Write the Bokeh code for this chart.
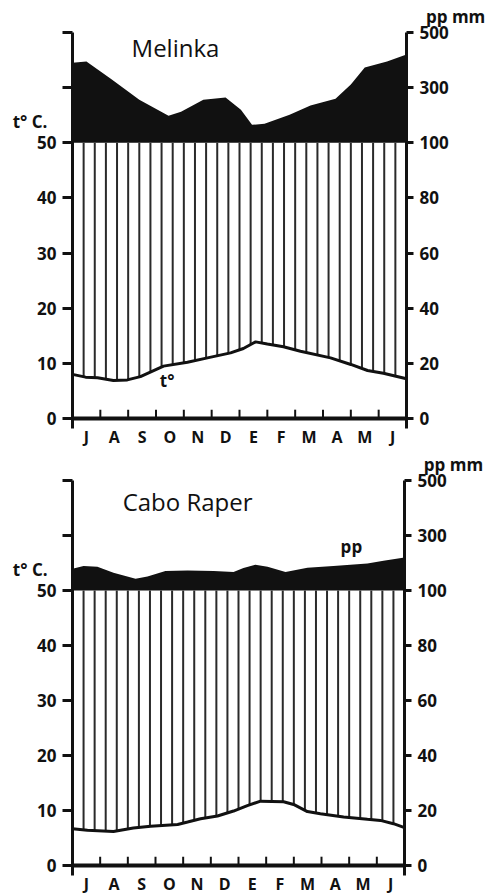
import numpy as np
from bokeh.plotting import figure
from bokeh.models import LinearAxis, FixedTicker, Label, Range1d
from bokeh.layouts import column
from bokeh.embed import file_html
from bokeh.resources import INLINE

# ---------------- data ----------------
months = ["J", "A", "S", "O", "N", "D", "E", "F", "M", "A", "M", "J"]
temp_ticks = [0, 10, 20, 30, 40, 50, 60, 70]
temp_labels = ["0", "10", "20", "30", "40", "50", "", ""]
pp_labels = ["0", "20", "40", "60", "80", "100", "300", "500"]

# Melinka
mel_pp_x = [0, 0.5, 1.4, 2.4, 3.45, 3.9, 4.7, 5.5, 6.05, 6.45, 6.9, 7.8, 8.55, 9.45, 10.0, 10.5, 11.3, 12]
mel_pp = [390, 395, 330, 256, 198, 213, 256, 264, 220, 165, 169, 202, 235, 260, 311, 373, 395, 420]
mel_t_x = [0, 0.47, 0.9, 1.47, 1.97, 2.44, 3.27, 4.13, 4.85, 5.68, 6.14, 6.58, 7.0, 7.58, 8.19, 9.27, 10.0, 10.6, 11.17, 12]
mel_t = [8.0, 7.5, 7.4, 6.9, 7.0, 7.6, 9.5, 10.2, 11.0, 11.9, 12.7, 13.9, 13.5, 13.0, 12.2, 11.0, 9.8, 8.7, 8.2, 7.2]

# Cabo Raper
cab_pp_x = [0, 0.4, 0.9, 1.48, 2.28, 2.71, 3.36, 4.16, 5.1, 5.82, 6.18, 6.61, 7.05, 7.7, 8.49, 9.43, 10.66, 11.24, 12]
cab_pp = [179, 189, 186, 165, 143, 151, 171, 173, 171, 167, 182, 194, 186, 167, 183, 189, 198, 208, 220]
cab_t_x = [0, 0.54, 1.48, 2.2, 2.82, 3.8, 4.16, 4.63, 5.24, 5.82, 6.32, 6.8, 7.63, 7.99, 8.49, 8.96, 9.8, 10.66, 11.13, 11.6, 12]
cab_t = [6.7, 6.4, 6.2, 6.8, 7.15, 7.45, 7.9, 8.5, 9.0, 9.9, 10.9, 11.7, 11.6, 11.1, 9.8, 9.4, 8.8, 8.4, 8.2, 7.6, 6.9]

FONT = "Open Sans"
INK = "#111111"
FIG_W = 492
PAGE_X0 = 0  # bokeh's page template has no body margin


def pp_scale(p):
    p = np.asarray(p, dtype=float)
    return np.where(p <= 100, p / 2.0, 50 + (p - 100) / 20.0)


def panel(name, pp_x, pp, t_x, t, fig_top, fig_h, ax_left, ax_right, y70, y0,
          title_pos, extra_label):
    # layout (page pixels) -> data ranges so the frame fills the whole canvas
    nmon = len(months)
    pxm = (ax_right - ax_left) / nmon
    x0 = (PAGE_X0 - ax_left) / pxm
    x1 = x0 + FIG_W / pxm
    pxt = (y0 - y70) / 70.0
    ytop = 70 + (y70 - fig_top) / pxt
    ybot = ytop - fig_h / pxt

    p = figure(width=FIG_W, height=fig_h, x_range=Range1d(x0, x1), y_range=Range1d(ybot, ytop),
               output_backend="svg", toolbar_location=None,
               x_axis_location=None, y_axis_location=None,
               min_border=0, min_border_left=0, min_border_right=0,
               min_border_top=0, min_border_bottom=0,
               outline_line_color=None, background_fill_color="white",
               border_fill_color="white")
    p.xgrid.visible = False
    p.ygrid.visible = False

    common = dict(axis_line_width=3, axis_line_color=INK, major_tick_line_width=3,
                  major_tick_line_color=INK, minor_tick_line_color=None, major_tick_in=0,
                  major_label_text_font=FONT, major_label_text_font_style="bold",
                  major_label_text_font_size="17px", major_label_text_color=INK,
                  bounds=(-1.8, 70))
    left = LinearAxis(ticker=FixedTicker(ticks=temp_ticks), fixed_location=0,
                      major_label_overrides={k: v for k, v in zip(temp_ticks, temp_labels)},
                      major_tick_out=10, major_label_standoff=6, **common)
    rightax = LinearAxis(ticker=FixedTicker(ticks=temp_ticks), fixed_location=nmon,
                         major_label_overrides={k: v for k, v in zip(temp_ticks, pp_labels)},
                         major_tick_out=7, major_label_standoff=6, **common)
    centers = [i + 0.5 for i in range(nmon)]
    bottom = LinearAxis(ticker=FixedTicker(ticks=centers), fixed_location=0,
                        major_label_overrides={c: m for c, m in zip(centers, months)},
                        axis_line_color=None, major_tick_line_color=None,
                        minor_tick_line_color=None, major_label_standoff=1,
                        major_label_text_font=FONT, major_label_text_font_style="bold",
                        major_label_text_font_size="16px", major_label_text_color=INK)
    p.add_layout(left, "left")
    p.add_layout(rightax, "right")
    p.add_layout(bottom, "below")

    # precipitation above 100 mm (black)
    p.varea(x=pp_x, y1=50, y2=pp_scale(pp), fill_color=INK)
    # humid season hatching between temperature and 100 mm
    hx = np.arange(0.4, nmon - 0.01, 0.4)
    hy = np.interp(hx, t_x, t)
    p.segment(x0=hx, y0=hy, x1=hx, y1=50, line_color="#2a2a2a", line_width=2)
    # temperature curve
    p.line(t_x, t, line_color=INK, line_width=3)
    # zero line and month ticks
    p.segment(x0=[0], y0=[0], x1=[nmon], y1=[0], line_color=INK, line_width=4)
    bx = np.arange(1, nmon)
    p.segment(x0=bx, y0=0, x1=bx, y1=1.6, line_color=INK, line_width=2)

    lbl = dict(text_font=FONT, text_color=INK)
    p.add_layout(Label(x=title_pos[0], y=title_pos[1], text=name, text_align="center",
                       text_baseline="middle", text_font_size="24px", **lbl))
    p.add_layout(Label(x=-0.9, y=53.8, text="t° C.", text_align="right", text_baseline="middle",
                       text_font_size="17px", text_font_style="bold", **lbl))
    p.add_layout(Label(x=12.7, y=72.9, text="pp mm", text_align="left", text_baseline="middle",
                       text_font_size="17px", text_font_style="bold", **lbl))
    p.add_layout(Label(x=extra_label[0], y=extra_label[1], text=extra_label[2], text_align="center",
                       text_baseline="middle", text_font_size="17px", text_font_style="bold", **lbl))
    return p


p1 = panel("Melinka", mel_pp_x, mel_pp, mel_t_x, mel_t,
           fig_top=0, fig_h=448, ax_left=72, ax_right=406, y70=32, y0=418,
           title_pos=(3.7, 67.3), extra_label=(3.4, 6.9, "t°"))
p2 = panel("Cabo Raper", cab_pp_x, cab_pp, cab_t_x, cab_t,
           fig_top=448, fig_h=446, ax_left=72, ax_right=404, y70=480, y0=865,
           title_pos=(4.16, 66.2), extra_label=(10.08, 58.0, "pp"))

layout = column(p1, p2, spacing=0)
open("out.html", "w").write(file_html(layout, INLINE))
